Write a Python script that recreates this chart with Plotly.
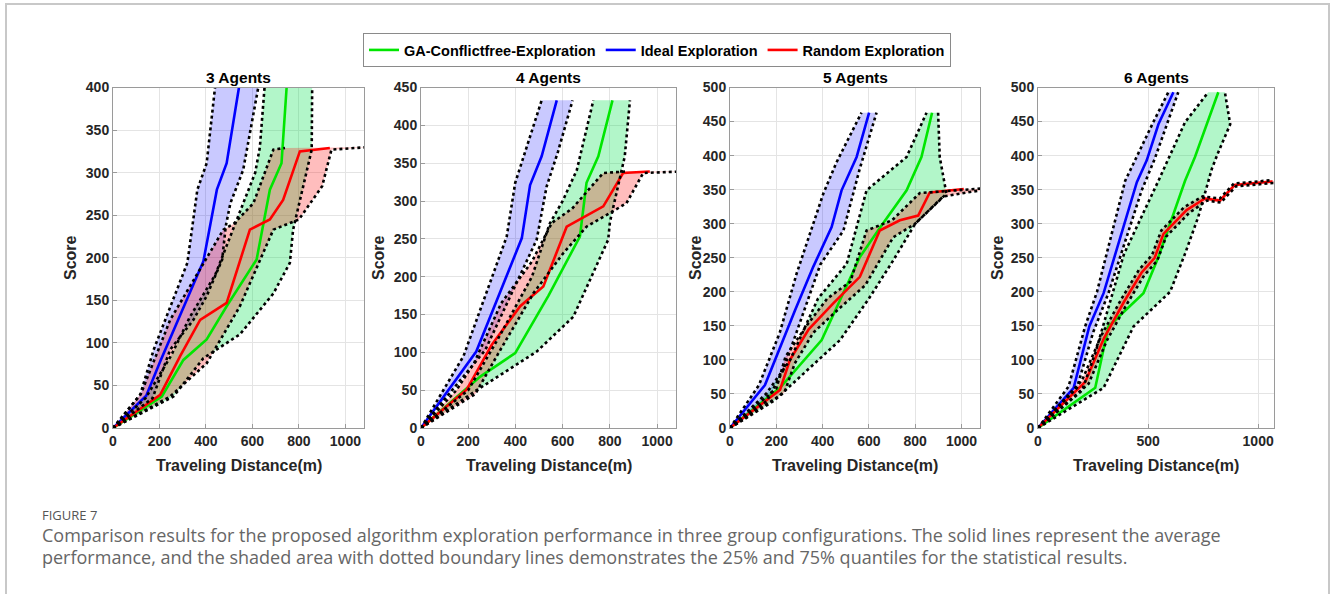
import plotly.graph_objects as go

W, H = 1330, 594

# ---------------- data ----------------
PANEL_TITLES = ["3 Agents", "4 Agents", "5 Agents", "6 Agents"]
SERIES_NAMES = ["GA-Conflictfree-Exploration", "Ideal Exploration", "Random Exploration"]
X_RANGES = [1080, 1080, 1080, 1072]
Y_RANGES = [400, 450, 500, 500]
X_TICKS_A = [0, 200, 400, 600, 800, 1000]
X_TICKS_B = [0, 500, 1000]

# 3 Agents
A3_GREEN_X = [0, 210, 303, 403, 489, 618, 675, 725, 747]
A3_GREEN_Y = [0, 37, 80, 104, 143, 198, 280, 311, 400]
A3_GREEN_L_X = [0, 140, 250, 330, 440, 525, 612, 632, 652]
A3_GREEN_L_Y = [0, 35, 85, 130, 180, 240, 300, 330, 400]
A3_GREEN_R_X = [0, 260, 389, 546, 690, 761, 775, 790, 855, 857]
A3_GREEN_R_Y = [0, 37, 82, 110, 158, 194, 233, 250, 327, 400]
A3_BLUE_X = [0, 143, 203, 389, 447, 489, 542]
A3_BLUE_Y = [0, 38, 78, 196, 280, 311, 400]
A3_BLUE_L_X = [0, 117, 175, 320, 363, 403, 439]
A3_BLUE_L_Y = [0, 39, 92, 194, 280, 311, 400]
A3_BLUE_R_X = [0, 170, 246, 346, 403, 470, 485, 505, 560, 625]
A3_BLUE_R_Y = [0, 35, 92, 127, 155, 198, 237, 264, 303, 400]
A3_RED_X = [0, 203, 290, 375, 489, 589, 675, 732, 804, 933]
A3_RED_Y = [0, 39, 85, 127, 147, 233, 245, 268, 325, 329]
A3_RED_L_X = [0, 120, 246, 475, 520, 604, 690, 740]
A3_RED_L_Y = [0, 40, 127, 233, 240, 264, 327, 329]
A3_RED_R_X = [0, 246, 403, 546, 690, 800, 900, 940, 1100]
A3_RED_R_Y = [0, 37, 76, 143, 233, 245, 284, 327, 330]

# 4 Agents
A4_GREEN_X = [0, 251, 399, 540, 673, 701, 751, 811]
A4_GREEN_Y = [0, 68, 99, 175, 253, 324, 359, 433]
A4_GREEN_L_X = [0, 200, 330, 470, 545, 600, 660, 730]
A4_GREEN_L_Y = [0, 50, 120, 200, 270, 300, 341, 433]
A4_GREEN_R_X = [0, 236, 490, 645, 793, 800, 863, 885]
A4_GREEN_R_Y = [0, 50, 101, 147, 249, 272, 359, 433]
A4_BLUE_X = [0, 234, 427, 462, 511, 575]
A4_BLUE_Y = [0, 101, 251, 321, 359, 433]
A4_BLUE_L_X = [0, 180, 363, 399, 511]
A4_BLUE_L_Y = [0, 95, 253, 324, 433]
A4_BLUE_R_X = [0, 272, 490, 532, 580, 642]
A4_BLUE_R_Y = [0, 103, 249, 319, 365, 433]
A4_RED_X = [0, 194, 300, 420, 518, 617, 772, 856, 969]
A4_RED_Y = [0, 51, 110, 161, 187, 266, 293, 337, 339]
A4_RED_L_X = [0, 150, 225, 340, 470, 554, 640, 772, 868]
A4_RED_L_Y = [0, 50, 86, 165, 220, 271, 290, 337, 339]
A4_RED_R_X = [0, 230, 330, 476, 600, 701, 870, 941, 1100]
A4_RED_R_Y = [0, 45, 100, 178, 230, 266, 297, 337, 339]

# 5 Agents
A5_GREEN_X = [0, 216, 396, 475, 561, 650, 763, 827, 873]
A5_GREEN_Y = [0, 59, 129, 188, 251, 295, 349, 398, 463]
A5_GREEN_L_X = [0, 158, 260, 380, 504, 590, 763, 849]
A5_GREEN_L_Y = [0, 51, 100, 190, 241, 349, 398, 463]
A5_GREEN_R_X = [0, 190, 475, 600, 705, 800, 935, 906, 899]
A5_GREEN_R_Y = [0, 40, 129, 190, 246, 300, 344, 398, 463]
A5_BLUE_X = [0, 151, 281, 360, 439, 482, 547, 601]
A5_BLUE_Y = [0, 63, 173, 237, 295, 349, 398, 463]
A5_BLUE_L_X = [0, 125, 215, 288, 403, 460, 568]
A5_BLUE_L_Y = [0, 63, 140, 227, 344, 390, 463]
A5_BLUE_R_X = [0, 160, 230, 390, 490, 560, 633]
A5_BLUE_R_Y = [0, 40, 85, 240, 290, 380, 463]
A5_RED_X = [0, 216, 259, 340, 446, 561, 647, 734, 813, 863, 1010]
A5_RED_Y = [0, 56, 100, 145, 183, 222, 290, 305, 312, 346, 351]
A5_RED_L_X = [0, 200, 240, 330, 420, 520, 590, 700, 820, 1100]
A5_RED_L_Y = [0, 58, 105, 150, 190, 215, 290, 305, 345, 352]
A5_RED_R_X = [0, 235, 280, 360, 470, 585, 705, 800, 921, 1100]
A5_RED_R_Y = [0, 52, 95, 140, 175, 210, 280, 300, 340, 350]

# 6 Agents
A6_GREEN_X = [0, 260, 320, 479, 547, 668, 713, 819]
A6_GREEN_Y = [0, 59, 149, 198, 251, 363, 398, 493]
A6_GREEN_L_X = [0, 200, 260, 330, 390, 547, 668, 773]
A6_GREEN_L_Y = [0, 55, 110, 190, 255, 363, 449, 493]
A6_GREEN_R_X = [0, 298, 434, 600, 668, 728, 790, 819, 873, 849]
A6_GREEN_R_Y = [0, 59, 149, 200, 256, 310, 381, 405, 446, 493]
A6_BLUE_X = [0, 162, 233, 298, 449, 494, 547, 615]
A6_BLUE_Y = [0, 59, 149, 198, 361, 393, 446, 493]
A6_BLUE_L_X = [0, 139, 214, 268, 396, 450, 525, 592]
A6_BLUE_L_Y = [0, 61, 149, 200, 363, 400, 450, 493]
A6_BLUE_R_X = [0, 177, 250, 320, 471, 530, 590, 637]
A6_BLUE_R_Y = [0, 59, 140, 198, 349, 395, 450, 493]
A6_RED_X = [0, 215, 300, 390, 470, 530, 570, 675, 758, 826, 894, 1065]
A6_RED_Y = [0, 68, 132, 185, 228, 250, 285, 320, 337, 334, 357, 362]
A6_RED_L_X = [0, 200, 288, 378, 458, 518, 560, 663, 748, 826, 890, 1065]
A6_RED_L_Y = [0, 70, 136, 189, 232, 254, 290, 324, 340, 337, 359, 364]
A6_RED_R_X = [0, 230, 312, 402, 482, 542, 582, 687, 768, 830, 900, 1080]
A6_RED_R_Y = [0, 65, 128, 181, 224, 246, 281, 316, 334, 331, 355, 360]

PANELS = [
    [(A3_GREEN_X, A3_GREEN_Y, A3_GREEN_L_X, A3_GREEN_L_Y, A3_GREEN_R_X, A3_GREEN_R_Y),
     (A3_BLUE_X, A3_BLUE_Y, A3_BLUE_L_X, A3_BLUE_L_Y, A3_BLUE_R_X, A3_BLUE_R_Y),
     (A3_RED_X, A3_RED_Y, A3_RED_L_X, A3_RED_L_Y, A3_RED_R_X, A3_RED_R_Y)],
    [(A4_GREEN_X, A4_GREEN_Y, A4_GREEN_L_X, A4_GREEN_L_Y, A4_GREEN_R_X, A4_GREEN_R_Y),
     (A4_BLUE_X, A4_BLUE_Y, A4_BLUE_L_X, A4_BLUE_L_Y, A4_BLUE_R_X, A4_BLUE_R_Y),
     (A4_RED_X, A4_RED_Y, A4_RED_L_X, A4_RED_L_Y, A4_RED_R_X, A4_RED_R_Y)],
    [(A5_GREEN_X, A5_GREEN_Y, A5_GREEN_L_X, A5_GREEN_L_Y, A5_GREEN_R_X, A5_GREEN_R_Y),
     (A5_BLUE_X, A5_BLUE_Y, A5_BLUE_L_X, A5_BLUE_L_Y, A5_BLUE_R_X, A5_BLUE_R_Y),
     (A5_RED_X, A5_RED_Y, A5_RED_L_X, A5_RED_L_Y, A5_RED_R_X, A5_RED_R_Y)],
    [(A6_GREEN_X, A6_GREEN_Y, A6_GREEN_L_X, A6_GREEN_L_Y, A6_GREEN_R_X, A6_GREEN_R_Y),
     (A6_BLUE_X, A6_BLUE_Y, A6_BLUE_L_X, A6_BLUE_L_Y, A6_BLUE_R_X, A6_BLUE_R_Y),
     (A6_RED_X, A6_RED_Y, A6_RED_L_X, A6_RED_L_Y, A6_RED_R_X, A6_RED_R_Y)],
]

# ---------------- style ----------------
LINE_COLORS = ["#00e600", "#0000ff", "#ff0000"]
FILL_COLORS = ["rgba(0,225,75,0.30)", "rgba(0,0,255,0.21)", "rgba(255,0,0,0.26)"]
FONT = "Liberation Sans, Arial, sans-serif"
TXT = "#262626"

# pixel layout of plot areas
X_PIX = [(113, 364), (421, 676), (730, 980), (1038, 1274)]
Y_PIX = (87.5, 428)
SCORE_X = [70, 378, 695, 997]

fig = go.Figure()

for p, panel in enumerate(PANELS):
    ax = "" if p == 0 else str(p + 1)
    xref, yref = "x" + ax, "y" + ax
    for s, (mx, my, lx, ly, rx, ry) in enumerate(panel):
        fig.add_trace(go.Scatter(
            x=list(lx) + list(rx)[::-1], y=list(ly) + list(ry)[::-1],
            mode="lines", fill="toself", fillcolor=FILL_COLORS[s],
            line=dict(width=0, color="rgba(0,0,0,0)"), hoverinfo="skip",
            showlegend=False, xaxis=xref, yaxis=yref))
    for s, (mx, my, lx, ly, rx, ry) in enumerate(panel):
        fig.add_trace(go.Scatter(
            x=mx, y=my, mode="lines", name=SERIES_NAMES[s],
            line=dict(color=LINE_COLORS[s], width=2.6),
            showlegend=(p == 0), legendrank=s,
            xaxis=xref, yaxis=yref))
    for s, (mx, my, lx, ly, rx, ry) in enumerate(panel):
        for bx, by in ((lx, ly), (rx, ry)):
            fig.add_trace(go.Scatter(
                x=bx, y=by, mode="lines",
                line=dict(color="black", width=2.6, dash="dot"),
                showlegend=False, hoverinfo="skip", xaxis=xref, yaxis=yref))

layout = dict(
    width=W, height=H, margin=dict(l=0, r=0, t=0, b=0, autoexpand=False),
    paper_bgcolor="white", plot_bgcolor="white",
    showlegend=True,
    legend=dict(orientation="h", x=657 / W, xanchor="center", y=1 - 50 / H, yanchor="middle",
                bordercolor="#8a8a8a", borderwidth=1, bgcolor="white",
                font=dict(family=FONT, size=14.5, color="black", weight="bold"),
                itemwidth=30, tracegroupgap=0, traceorder="normal"),
)

annotations = []
for p in range(4):
    ax = "" if p == 0 else str(p + 1)
    x0, x1 = X_PIX[p]
    xd = [x0 / W, x1 / W]
    yd = [1 - Y_PIX[1] / H, 1 - Y_PIX[0] / H]
    xt = X_TICKS_B if p == 3 else X_TICKS_A
    common = dict(showgrid=True, gridcolor="#e4e4e4", gridwidth=1, zeroline=False,
                  showline=True, linecolor="#9a9a9a", linewidth=1, mirror=True,
                  ticks="inside", ticklen=4, tickcolor="#9a9a9a",
                  tickfont=dict(family=FONT, size=14, color=TXT, weight="bold"))
    layout["xaxis" + ax] = dict(domain=xd, range=[0, X_RANGES[p]], tickvals=xt,
                                anchor="y" + ax, **common)
    layout["yaxis" + ax] = dict(domain=yd, range=[0, Y_RANGES[p]], dtick=50,
                                anchor="x" + ax, **common)
    cx = (x0 + x1) / 2 / W
    annotations.append(dict(text=PANEL_TITLES[p], x=cx, y=1 - 77 / H, xref="paper", yref="paper",
                            showarrow=False, xanchor="center", yanchor="middle",
                            font=dict(family=FONT, size=15.5, color="black", weight="bold")))
    annotations.append(dict(text="Traveling Distance(m)", x=cx, y=1 - 465 / H, xref="paper", yref="paper",
                            showarrow=False, xanchor="center", yanchor="middle",
                            font=dict(family=FONT, size=16, color=TXT, weight="bold")))
    annotations.append(dict(text="Score", x=SCORE_X[p] / W, y=1 - 258 / H, xref="paper", yref="paper",
                            showarrow=False, xanchor="center", yanchor="middle", textangle=-90,
                            font=dict(family=FONT, size=16, color=TXT, weight="bold")))

CAP_FONT = "Open Sans, Noto Sans, sans-serif"
annotations.append(dict(text="FIGURE 7", x=40 / W, y=1 - 515 / H, xref="paper", yref="paper",
                        showarrow=False, xanchor="left", yanchor="middle",
                        font=dict(family=CAP_FONT, size=13, color="#555555")))
annotations.append(dict(text="Comparison results for the proposed algorithm exploration performance in three group configurations. The solid lines represent the average",
                        x=40 / W, y=1 - 535 / H, xref="paper", yref="paper",
                        showarrow=False, xanchor="left", yanchor="middle",
                        font=dict(family=CAP_FONT, size=18, color="#666666")))
annotations.append(dict(text="performance, and the shaded area with dotted boundary lines demonstrates the 25% and 75% quantiles for the statistical results.",
                        x=40 / W, y=1 - 557 / H, xref="paper", yref="paper",
                        showarrow=False, xanchor="left", yanchor="middle",
                        font=dict(family=CAP_FONT, size=18, color="#666666")))
layout["annotations"] = annotations
layout["shapes"] = [dict(type="rect", xref="paper", yref="paper", x0=6 / W, x1=1329 / W,
                         y0=-0.05, y1=1 - 4 / H, line=dict(color="#c8c8c8", width=2),
                         fillcolor="rgba(0,0,0,0)", layer="below")]

fig.update_layout(**layout)
fig.write_html("out.html",
               post_script="document.body.style.margin='0';document.body.style.overflow='hidden';")
